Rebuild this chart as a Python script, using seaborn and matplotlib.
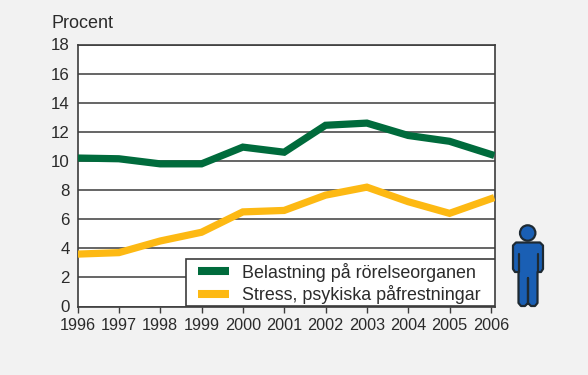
import pandas as pd
import seaborn as sns
import matplotlib.pyplot as plt
from matplotlib.lines import Line2D
from matplotlib.patches import Circle, Polygon, Rectangle
from matplotlib.transforms import Affine2D

years = [1996, 1997, 1998, 1999, 2000, 2001, 2002, 2003, 2004, 2005, 2006]
belastning = [10.2, 10.15, 9.8, 9.8, 10.95, 10.6, 12.45, 12.6, 11.75, 11.35, 10.45]
stress = [3.6, 3.7, 4.5, 5.1, 6.5, 6.6, 7.65, 8.2, 7.2, 6.4, 7.4]
yticks = list(range(0, 20, 2))
series_names = ["Belastning på rörelseorganen", "Stress, psykiska påfrestningar"]
colors = ["#006b3c", "#fdb913"]

W, H = 588, 375
DARK = "#3c3c3c"
TEXT = "#2b2b2b"
BLUE = "#1a5fb4"
OUTLINE = "#1e2a33"

if __name__ == '__main__':
    sns.set_style("white")
    plt.rcParams['font.family'] = ['Liberation Sans', 'DejaVu Sans']
    plt.rcParams['figure.facecolor'] = "#f2f2f2"

    df = pd.DataFrame({"year": years, series_names[0]: belastning, series_names[1]: stress})
    long = df.melt(id_vars="year", var_name="serie", value_name="procent")

    fig = plt.figure(figsize=(W / 100, H / 100), dpi=100)
    ax = fig.add_axes([77.5 / W, 1 - 306.5 / H, (495 - 77.5) / W, (306.5 - 44.5) / H])

    sns.lineplot(data=long, x="year", y="procent", hue="serie", ax=ax,
                 palette=colors, linewidth=5.2, legend=False,
                 solid_capstyle="projecting", solid_joinstyle="miter", zorder=3)

    ax.set_xlim(1996, 2006.1)
    ax.set_ylim(0, 18)
    ax.set_xlabel("")
    ax.set_ylabel("")
    ax.set_xticks(years)
    ax.set_yticks(yticks)
    ax.yaxis.grid(True, color=DARK, linewidth=1.1)
    ax.set_axisbelow(True)
    ax.tick_params(axis="x", bottom=True, length=4.5, width=1, color=DARK,
                   labelsize=11.7, labelcolor=TEXT, pad=4)
    ax.tick_params(axis="y", left=False, labelsize=12.2, labelcolor=TEXT, pad=2)
    for s in ax.spines.values():
        s.set_color(DARK)
        s.set_linewidth(1.2)

    fig.text(51.5 / W, 1 - 23 / H, "Procent", fontsize=13, color=TEXT, va="center", ha="left")

    # pixel coordinates, y counted from the bottom of the figure
    pix = Affine2D().scale(1 / W, 1 / H) + fig.transFigure

    # legend box, wider than the legend text
    ax.add_patch(Rectangle((185.5, H - 306), 309.5, 47, transform=pix, facecolor="white",
                           edgecolor=DARK, linewidth=1.2, zorder=4))
    handles = [Line2D([], [], color=c, linewidth=5.8, solid_capstyle="butt") for c in colors]
    leg = ax.legend(handles, series_names, loc="center left",
                    bbox_to_anchor=(198 / W, 1 - 283.3 / H), bbox_transform=fig.transFigure,
                    borderaxespad=0, borderpad=0, frameon=False, fontsize=12.9, labelcolor=TEXT,
                    handlelength=1.73, handletextpad=0.72, labelspacing=0.2)
    leg.set_zorder(5)

    # person icon
    body = [(516, 242.5), (540, 242.5), (543, 245.5), (543, 269), (541, 272), (537.5, 272),
            (537.5, 303), (535, 306), (531, 306), (528, 303), (528, 278), (528, 303), (525, 306),
            (521, 306), (518.5, 303), (518.5, 272), (515, 272), (513, 269), (513, 245.5)]
    fig.add_artist(Polygon([(x, H - y) for x, y in body], closed=True, transform=pix, facecolor=BLUE,
                           edgecolor=OUTLINE, linewidth=1.6, joinstyle="round"))
    fig.add_artist(Circle((527.7, H - 233), 7.7, transform=pix, facecolor=BLUE,
                          edgecolor=OUTLINE, linewidth=1.6))
    for x in (518.5, 537.5):
        fig.add_artist(Line2D([x, x], [H - 254, H - 272], transform=pix, color=OUTLINE, linewidth=1.6))

    fig.savefig("out.png", dpi=100)
